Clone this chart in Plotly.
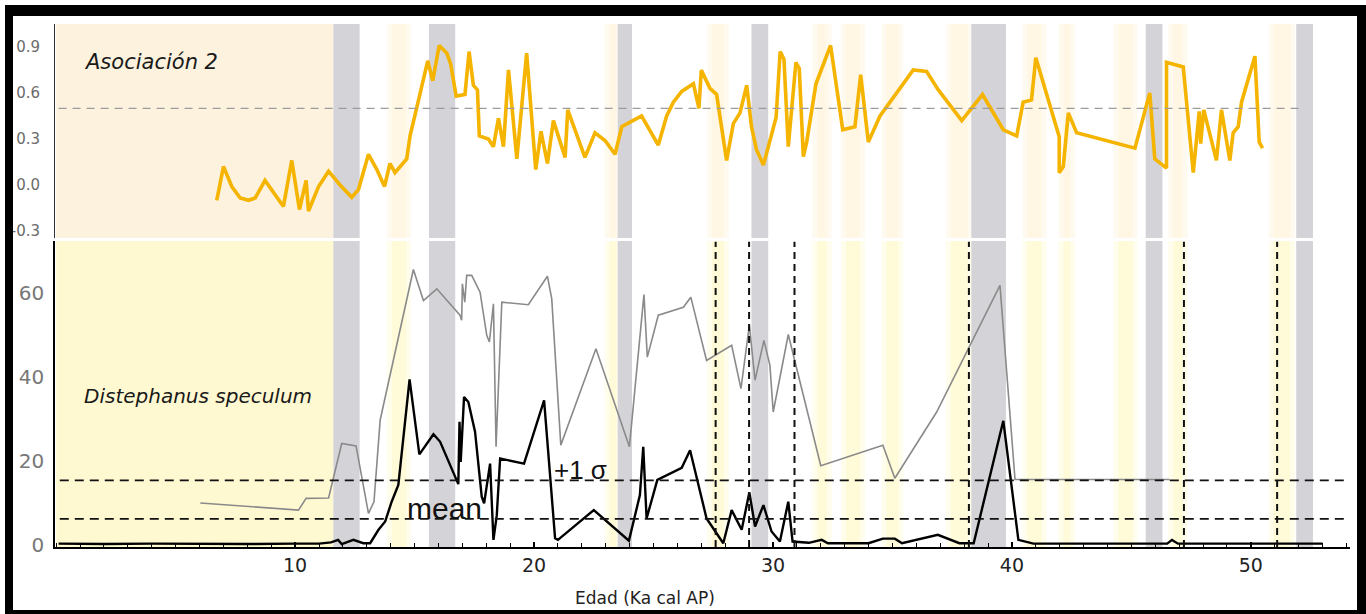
import plotly.graph_objects as go

# ---------------- data ----------------
# Asociación 2 factor loadings vs age (ka cal BP)
asoc_age = [6.72, 7.0, 7.35, 7.7, 8.05, 8.33, 8.74, 9.16, 9.51, 9.86,
            10.18, 10.46, 10.56, 10.98, 11.4, 11.88, 12.37, 12.65, 13.07, 13.42,
            13.74, 13.97, 14.18, 14.67, 14.81, 15.16, 15.55, 15.76, 16.03, 16.35,
            16.51, 16.74, 17.11, 17.28, 17.46, 17.63, 17.71, 18.09, 18.3, 18.51,
            18.72, 18.93, 19.28, 19.69, 20.07, 20.29, 20.56, 20.81, 21.3, 21.41,
            22.13, 22.55, 22.97, 23.39, 23.67, 24.02, 24.5, 25.2, 25.55, 25.83,
            26.18, 26.67, 26.9, 27.0, 27.36, 27.64, 28.06, 28.34, 28.62, 28.9,
            29.1, 29.31, 29.6, 30.13, 30.3, 30.46, 30.64, 30.96, 31.1, 31.27,
            31.41, 31.8, 32.41, 32.92, 33.43, 33.67, 33.99, 34.48, 35.87, 36.43,
            36.92, 37.9, 38.77, 39.64, 39.92, 40.2, 40.47, 40.82, 41.0, 41.59,
            41.98, 41.98, 42.15, 42.36, 42.71, 45.15, 45.77, 45.98, 46.47, 46.47,
            47.17, 47.59, 47.84, 47.9, 48.03, 48.56, 48.77, 49.12, 49.26, 49.47,
            49.61, 50.17, 50.35, 50.49]
asoc_val = [-0.10, 0.12, -0.01, -0.085, -0.10, -0.085, 0.03, -0.065, -0.14, 0.16,
            -0.16, 0.03, -0.17, -0.01, 0.09, 0.0, -0.08, -0.03, 0.20, 0.10,
            -0.01, 0.14, 0.08, 0.17, 0.32, 0.55, 0.81, 0.68, 0.91, 0.86,
            0.79, 0.58, 0.59, 0.87, 0.65, 0.62, 0.32, 0.30, 0.25, 0.435,
            0.25, 0.75, 0.17, 0.86, 0.10, 0.35, 0.14, 0.42, 0.18, 0.49,
            0.18, 0.34, 0.29, 0.20, 0.38, 0.41, 0.45, 0.26, 0.45, 0.54,
            0.61, 0.66, 0.50, 0.75, 0.63, 0.59, 0.16, 0.40, 0.47, 0.65,
            0.38, 0.23, 0.13, 0.44, 0.87, 0.82, 0.25, 0.80, 0.76, 0.185,
            0.28, 0.66, 0.91, 0.36, 0.38, 0.72, 0.28, 0.45, 0.75, 0.74,
            0.62, 0.42, 0.59, 0.36, 0.34, 0.32, 0.54, 0.555, 0.83, 0.51,
            0.315, 0.08, 0.12, 0.47, 0.34, 0.24, 0.60, 0.17, 0.11, 0.80,
            0.77, 0.08, 0.48, 0.27, 0.49, 0.16, 0.49, 0.16, 0.34, 0.38,
            0.54, 0.84, 0.28, 0.24]

# Distephanus speculum, grey curve
grey_age = [6.03, 10.14, 10.46, 11.4, 11.95, 12.55, 13.07, 13.3, 13.56, 14.95,
            15.37, 15.93, 16.9, 16.97, 17.0, 17.1, 17.18, 17.39, 17.74, 18.02,
            18.13, 18.3, 18.41, 18.65, 19.76, 20.56, 20.74, 21.12, 22.59, 23.99,
            24.6, 24.74, 25.2, 26.25, 26.56, 27.22, 28.27, 28.66, 29.01, 29.25,
            29.62, 29.87, 30.01, 30.64, 32.0, 34.6, 35.1, 36.85, 39.5, 40.13,
            46.6]
grey_val = [10.0, 8.3, 11.1, 11.2, 24.2, 23.6, 7.5, 10.3, 29.8, 65.7,
            58.3, 61.1, 54.8, 53.6, 62.3, 57.9, 64.3, 64.3, 60.3, 50.0,
            48.4, 57.5, 23.4, 57.9, 57.3, 64.1, 58.7, 23.8, 46.8, 23.4,
            59.7, 44.8, 54.8, 56.7, 59.1, 44.0, 47.6, 37.3, 52.4, 39.3,
            48.8, 42.9, 31.7, 50.2, 18.9, 23.8, 15.9, 31.7, 61.9, 15.6,
            15.6]

# Distephanus speculum, black curve
black_age = [0.1, 2, 4, 6, 8, 10, 11.0, 11.5, 11.8, 11.95,
             12.44, 12.85, 13.14, 13.49, 13.77, 14.04, 14.32, 14.79, 15.2, 15.79,
             16.07, 16.83, 16.88, 16.93, 17.07, 17.25, 17.53, 17.81, 17.91, 18.16,
             18.3, 18.44, 18.58, 19.58, 20.42, 20.88, 21.0, 22.5, 23.97, 24.43,
             24.57, 24.71, 25.16, 26.18, 26.53, 27.22, 27.92, 28.27, 28.69, 29.01,
             29.25, 29.6, 29.94, 30.29, 30.64, 30.82, 31.5, 32.04, 32.3, 34.0,
             34.6, 35.1, 35.4, 36.9, 37.8, 38.4, 39.64, 40.27, 40.9, 43.0,
             46.5, 46.7, 46.95, 49, 53.0]
black_val = [0.3, 0.2, 0.3, 0.2, 0.2, 0.3, 0.3, 0.6, 1.2, 0.2,
             1.2, 0.4, 0.4, 3.6, 5.6, 10.3, 14.3, 39.5, 21.6, 26.4,
             24.6, 14.5, 29.4, 19.8, 35.3, 34.1, 27.0, 11.5, 9.9, 19.4,
             1.2, 7.1, 20.6, 19.4, 34.5, 1.6, 1.2, 8.3, 1.0, 11.9,
             23.4, 6.3, 15.5, 18.4, 22.6, 6.3, 0.4, 8.3, 3.6, 12.5,
             4.4, 9.5, 3.2, 0.8, 10.3, 0.8, 0.5, 1.2, 0.4, 0.4,
             1.5, 1.5, 0.4, 2.4, 0.4, 0.4, 29.6, 1.2, 0.3, 0.3,
             0.3, 1.2, 0.3, 0.3, 0.3]

mean_level = 6.2
sigma_level = 15.4
asoc_threshold = 0.5

# event bands (ka)
holocene_band = (0.0, 11.6)
grey_bands = [(11.6, 12.7), (15.6, 16.7), (23.5, 24.1), (29.1, 29.8),
              (38.3, 39.75), (45.6, 46.3), (51.9, 52.6)]
yellow_bands = [(14.0, 14.7), (23.1, 23.5), (27.4, 28.0), (31.8, 32.3),
                (33.0, 33.7), (34.7, 35.3), (37.4, 38.2), (40.6, 41.3),
                (42.1, 42.5), (44.4, 45.1), (46.7, 47.2), (50.9, 51.7)]
dashed_ages = [27.6, 29.0, 30.9, 38.2, 47.2, 51.1]

x_ticks = [10, 20, 30, 40, 50]
bottom_ticks = [0, 20, 40, 60]
top_ticks = [-0.3, 0.0, 0.3, 0.6, 0.9]
top_ticktext = ["-0.3", "0.0", "0.3", "0.6", "0.9"]

# ---------------- figure ----------------
W, H = 1366, 614
ML, MR, MT, MB = 55, 16, 24, 67
PW, PH = W - ML - MR, H - MT - MB


def px_x(px):
    return (px - ML) / PW


def px_y(py):
    return (H - MB - py) / PH


fig = go.Figure()

# top panel line
fig.add_trace(go.Scatter(x=asoc_age, y=asoc_val, mode="lines",
                         line=dict(color="#F5B400", width=3.6),
                         xaxis="x2", yaxis="y2", showlegend=False,
                         hoverinfo="skip"))
fig.add_trace(go.Scatter(x=[0.1, 52.2], y=[asoc_threshold] * 2, mode="lines",
                         line=dict(color="#9c9c9c", width=1.3, dash="8px,6px"),
                         xaxis="x2", yaxis="y2", showlegend=False,
                         hoverinfo="skip"))

# bottom panel lines
fig.add_trace(go.Scatter(x=grey_age, y=grey_val, mode="lines",
                         line=dict(color="#8a8a8a", width=1.6),
                         xaxis="x", yaxis="y", showlegend=False))
fig.add_trace(go.Scatter(x=black_age, y=black_val, mode="lines",
                         line=dict(color="#000000", width=2.4),
                         xaxis="x", yaxis="y", showlegend=False))
for lvl in (mean_level, sigma_level):
    fig.add_trace(go.Scatter(x=[0.15, 54.1], y=[lvl, lvl], mode="lines",
                             line=dict(color="#111111", width=1.8,
                                       dash="9px,6px"),
                             xaxis="x", yaxis="y", showlegend=False))
for a in dashed_ages:
    fig.add_trace(go.Scatter(x=[a, a], y=[-0.5, 72.3], mode="lines",
                             line=dict(color="#111111", width=2,
                                       dash="7px,5px"),
                             xaxis="x", yaxis="y", showlegend=False))

shapes = []
# background shading
shapes.append(dict(type="rect", xref="x2", yref="y2 domain",
                   x0=holocene_band[0], x1=holocene_band[1], y0=0, y1=1,
                   fillcolor="#FDF2DE", line_width=0, layer="below"))
shapes.append(dict(type="rect", xref="x", yref="y domain",
                   x0=holocene_band[0], x1=holocene_band[1], y0=0, y1=1,
                   fillcolor="#FFF9D2", line_width=0, layer="below"))
# soft-edged pale bands: a faint halo plus a slightly stronger core
for x0, x1 in yellow_bands:
    for xr, yr, halo, core in (("x2", "y2 domain", "#FFFAF0", "#FFF6E4"),
                               ("x", "y domain", "#FFFDEB", "#FFFAD8")):
        shapes.append(dict(type="rect", xref=xr, yref=yr,
                           x0=x0 - 0.15, x1=x1 + 0.15, y0=0, y1=1,
                           fillcolor=halo, line_width=0, layer="below"))
        shapes.append(dict(type="rect", xref=xr, yref=yr,
                           x0=x0 + 0.05, x1=x1 - 0.05, y0=0, y1=1,
                           fillcolor=core, line_width=0, layer="below"))
for x0, x1 in grey_bands:
    for xr, yr in (("x2", "y2 domain"), ("x", "y domain")):
        shapes.append(dict(type="rect", xref=xr, yref=yr,
                           x0=x0, x1=x1, y0=0, y1=1, fillcolor="#D4D4D8",
                           line_width=0, layer="below"))

# outer black frame
for (a0, b0, a1, b1) in [(5, 5, 1366, 16), (5, 5, 13, 614),
                         (1357, 5, 1366, 614), (5, 610, 1366, 614)]:
    shapes.append(dict(type="rect", xref="paper", yref="paper",
                       x0=px_x(a0), x1=px_x(a1), y0=px_y(b1), y1=px_y(b0),
                       fillcolor="#000000", line_width=0, layer="above"))

annotations = [
    dict(text="<i>Asociación 2</i>", x=1.08, y=0.80, xref="x2", yref="y2",
         xanchor="left", yanchor="middle", showarrow=False,
         font=dict(family="DejaVu Sans", size=21, color="#1a1a1a")),
    dict(text="<i>Distephanus speculum</i>", x=1.08, y=35.5, xref="x",
         yref="y", xanchor="left", yanchor="middle", showarrow=False,
         font=dict(family="DejaVu Sans", size=20, color="#1a1a1a")),
    dict(text="mean", x=16.26, y=8.8, xref="x", yref="y", showarrow=False,
         xanchor="center", yanchor="middle",
         font=dict(family="Liberation Sans", size=30, color="#111111")),
    dict(text="+1 σ", x=21.95, y=17.9, xref="x", yref="y", showarrow=False,
         xanchor="center", yanchor="middle",
         font=dict(family="Liberation Sans", size=26, color="#111111")),
    dict(text="Edad (Ka cal AP)", x=px_x(645), y=px_y(598), xref="paper",
         yref="paper", showarrow=False, xanchor="center", yanchor="middle",
         font=dict(family="DejaVu Sans", size=17, color="#222222")),
]

fig.update_layout(
    width=W, height=H, autosize=False,
    margin=dict(l=ML, r=MR, t=MT, b=MB),
    paper_bgcolor="white", plot_bgcolor="white",
    shapes=shapes, annotations=annotations,
    xaxis=dict(domain=[0, 1], range=[-0.05, 54.15], anchor="y",
               tickmode="array", tickvals=x_ticks, ticks="inside",
               ticklen=5, tickcolor="#000", tickwidth=1.5,
               minor=dict(dtick=1, tick0=0, ticks="inside", ticklen=4,
                          tickcolor="#000", tickwidth=1.2),
               showline=True, linecolor="#000", linewidth=2,
               showgrid=False, zeroline=False,
               tickfont=dict(family="DejaVu Sans", size=19, color="#222")),
    xaxis2=dict(domain=[0, 1], range=[-0.05, 54.15], anchor="y2",
                matches="x", showticklabels=False, ticks="",
                showline=False, showgrid=False, zeroline=False),
    yaxis=dict(domain=[0, px_y(241)], range=[-0.5, 72.5], anchor="x",
               tickmode="array", tickvals=bottom_ticks, ticks="",
               showline=True, linecolor="#000", linewidth=1.5,
               showgrid=False, zeroline=False, ticklabelstandoff=5,
               tickfont=dict(family="DejaVu Sans", size=20, color="#777")),
    yaxis2=dict(domain=[px_y(238), 1], range=[-0.346, 1.05], anchor="x2",
                tickmode="array", tickvals=top_ticks, ticktext=top_ticktext,
                ticks="", showline=True, linecolor="#333", linewidth=1,
                showgrid=False, zeroline=False, ticklabelstandoff=11,
                tickfont=dict(family="DejaVu Sans", size=15, color="#6b6b6b")),
)

fig.write_html("out.html")
